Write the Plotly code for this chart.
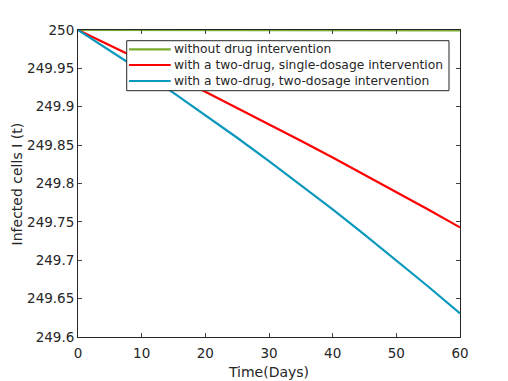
import plotly.graph_objects as go

# time axis (days)
days = [0, 5, 10, 15, 20, 25, 30, 35, 40, 45, 50, 55, 60]

# infected cells I(t) for each scenario
no_drug = [250.0, 250.0, 249.9996, 249.9996, 249.9996, 249.9996, 249.9996,
           249.9996, 249.9996, 249.9995, 249.9995, 249.9996, 249.9996]
single_dose = [250.0, 249.9804, 249.9604, 249.9402, 249.9196, 249.8986, 249.8774,
               249.8558, 249.8338, 249.8116, 249.7890, 249.7661, 249.7428]
two_dose = [250.0, 249.9735, 249.9462, 249.9181, 249.8892, 249.8596, 249.8292,
            249.7981, 249.7662, 249.7335, 249.7000, 249.6658, 249.6308]

names = ["without drug intervention",
         "with a two-drug, single-dosage intervention",
         "with a two-drug, two-dosage intervention"]
colors = ["#77AC30", "#FF0000", "#0A98BD"]

x_ticks = [0, 10, 20, 30, 40, 50, 60]
y_ticks = [249.6, 249.65, 249.7, 249.75, 249.8, 249.85, 249.9, 249.95, 250]
y_labels = ["249.6", "249.65", "249.7", "249.75", "249.8", "249.85", "249.9", "249.95", "250"]

TXT = "#262626"

fig = go.Figure()
for ys, name, col in zip([no_drug, single_dose, two_dose], names, colors):
    fig.add_trace(go.Scatter(x=days, y=ys, mode="lines", name=name,
                             line=dict(color=col, width=2.2), showlegend=False))

# MATLAB-style legend box: tighter rows than plotly's own legend allows
fig.add_shape(type="rect", xref="paper", yref="paper",
              x0=0.1275, x1=0.9712, y0=0.8023, y1=0.9651,
              line=dict(color=TXT, width=1), fillcolor="white")
row_y = [0.9371, 0.8860, 0.8339]
for name, col, yy in zip(names, colors, row_y):
    fig.add_shape(type="line", xref="paper", yref="paper",
                  x0=0.1335, x1=0.2427, y0=yy, y1=yy,
                  line=dict(color=col, width=2.2))
    fig.add_annotation(text=name, xref="paper", yref="paper", x=0.2460, y=yy,
                       xanchor="left", yanchor="middle", showarrow=False,
                       font=dict(size=12.3, color=TXT))

# y title placed by hand, kept just inside the left edge of the figure
fig.add_annotation(text="Infected cells I (t)", xref="paper", yref="paper",
                   x=-0.160, y=0.5, xanchor="center", yanchor="middle",
                   textangle=-90, showarrow=False, font=dict(size=14, color=TXT))

# the page body adds an 8px offset, so margins are trimmed to compensate
fig.update_layout(
    width=508, height=381,
    margin=dict(l=70, r=56, t=22, b=52),
    paper_bgcolor="white", plot_bgcolor="white",
    font=dict(family="DejaVu Sans", size=13.5, color=TXT),
    showlegend=False,
)
fig.update_xaxes(range=[0, 60], tickvals=x_ticks, ticks="inside", ticklen=4,
                 ticklabelstandoff=4,
                 showline=True, linecolor=TXT, linewidth=1, mirror="allticks",
                 showgrid=False, zeroline=False, automargin=False,
                 title=dict(text="Time(Days)", font=dict(size=14), standoff=6))
fig.update_yaxes(range=[249.6, 250], tickvals=y_ticks, ticktext=y_labels,
                 ticks="inside", ticklen=4,
                 showline=True, linecolor=TXT, linewidth=1, mirror="allticks",
                 showgrid=False, zeroline=False, automargin=False)

fig.write_html("out.html")
